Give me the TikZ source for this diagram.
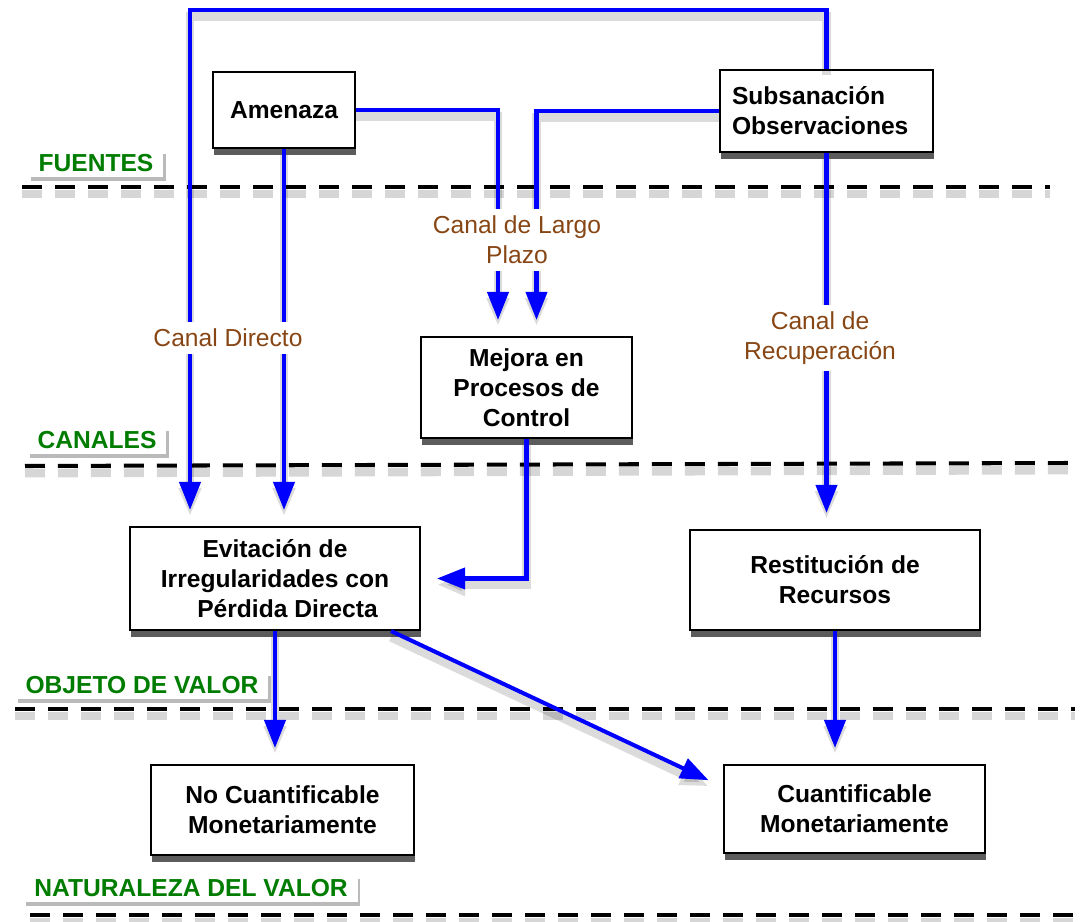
\documentclass[tikz,border=0pt]{standalone}
\usepackage{fontspec}
\setmainfont{Liberation Sans}
\usetikzlibrary{arrows.meta, shadows}

\definecolor{nivelgreen}{RGB}{0,125,0}
\definecolor{canalbrown}{RGB}{135,70,20}

\begin{document}
\begin{tikzpicture}[x=0.02cm,y=-0.02cm,
  font=\fontsize{14}{17}\selectfont,
  box/.style={draw=black, line width=1.2pt, fill=white, align=center, inner sep=0pt,
    font=\fontsize{14}{17}\selectfont\bfseries,
    drop shadow={shadow xshift=0.3pt, shadow yshift=-4pt, fill=black!75, opacity=0.85}},
  nivel/.style={fill=white, text=nivelgreen, font=\fontsize{14}{17}\selectfont\bfseries,
    inner xsep=0.2cm, inner ysep=0.1cm,
    drop shadow={shadow xshift=1.2pt, shadow yshift=-2.5pt, fill=black!60, opacity=0.45}},
  canal/.style={fill=white, text=canalbrown, align=center, inner sep=0.14cm},
  conn/.style={draw=blue, line width=2.3pt, -{Triangle[length=0.56cm, width=0.42cm]}, shorten >=0.32cm,
    preaction={draw=black, opacity=0.14, line width=5pt, transform canvas={yshift=-3.5pt}}},
  sep/.style={draw=black, line width=2.3pt, dash pattern=on 0.4cm off 0.26cm,
    preaction={draw=black, opacity=0.16, line width=5pt, dash pattern=on 0.4cm off 0.26cm, transform canvas={yshift=-4pt}}}
]
\useasboundingbox (0,0) rectangle (1085,922);

% separadores
\draw[sep] (22,187) -- (1050,187);
\draw[sep] (25,466) -- (1070,463);
\draw[sep] (15,709) -- (1075,709);
\draw[sep] (30,915) -- (1080,915);

% cajas
\node[box, minimum width=2.84cm, minimum height=1.52cm] (amenaza) at (284,110) {Amenaza};
\node[box, text width=3.78cm, inner xsep=0.24cm, minimum height=1.64cm, align=left] (subsan) at (826.5,111) {Subsanación\\Observaciones};
\node[box, minimum width=4.22cm, minimum height=2.02cm] (mejora) at (526.5,387.5) {Mejora en\\Procesos de\\Control};
\node[box, minimum width=5.8cm, minimum height=2.06cm] (evit) at (275,578.5) {Evitación de\\Irregularidades con\\\hspace*{0.5cm}Pérdida Directa};
\node[box, minimum width=5.8cm, minimum height=2cm] (restit) at (835,580) {Restitución de\\Recursos};
\node[box, minimum width=5.26cm, minimum height=1.8cm] (nocuant) at (282.5,810) {No Cuantificable\\Monetariamente};
\node[box, minimum width=5.22cm, minimum height=1.76cm] (cuant) at (854.5,809) {Cuantificable\\Monetariamente};

% niveles
\node[nivel] (fuentes) at (96,163) {FUENTES};
\node[nivel] (canales) at (97,440) {CANALES};
\node[nivel] (objeto) at (142,685) {OBJETO DE VALOR};
\node[nivel] (naturaleza) at (191,888) {NATURALEZA DEL VALOR};

% conectores
\coordinate (toploop) at (500,10);
\draw[conn] (subsan.north) |- (toploop) -| ([xshift=-1.7cm]evit.north);
\draw[conn] (amenaza.south) -- (amenaza.south |- evit.north);
\draw[conn] (amenaza.east) -| ([xshift=-0.57cm]mejora.north);
\draw[conn] (subsan.west) -| ([xshift=0.2cm]mejora.north);
\draw[conn] (mejora.south) |- (evit.east);
\draw[conn] (subsan.south) -- (subsan.south |- restit.north);
\draw[conn] (evit.south) -- (evit.south |- nocuant.north);
\draw[conn] ([xshift=-0.6cm]evit.south east) -- ([yshift=0.44cm]cuant.west);
\draw[conn] (restit.south) -- (restit.south |- cuant.north);

% etiquetas de canal
\node[canal] (directo) at (228,338) {Canal Directo};
\node[canal] (largo) at (517,240) {Canal de Largo\\Plazo};
\node[canal] (recup) at (820,338) {Canal de\\Recuperación};
\end{tikzpicture}
\end{document}
